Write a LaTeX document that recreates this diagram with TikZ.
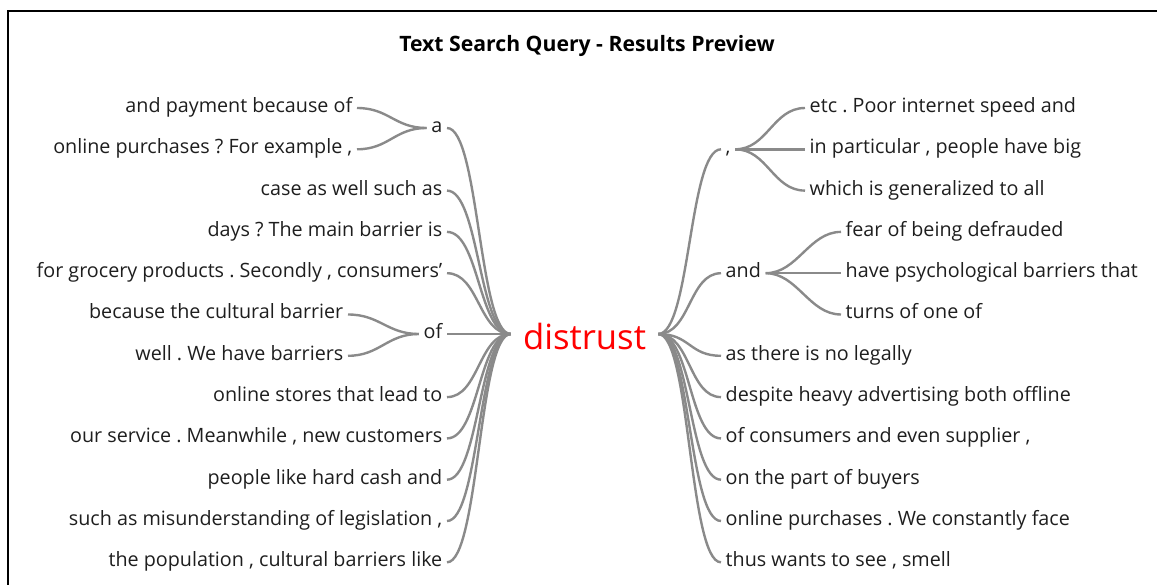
\documentclass[tikz,border=0pt]{standalone}
\usepackage{fontspec}
\setmainfont{Open Sans}
\usetikzlibrary{positioning}
\definecolor{linkgray}{HTML}{8A8A8A}
\definecolor{wordgray}{HTML}{1E1E1E}
\definecolor{hitred}{HTML}{FF0000}
\tikzset{
    every node/.style={font=\fontsize{14.8}{17}\selectfont,text=wordgray},
    leafl/.style={anchor=east,text height=1.5ex,text depth=.25ex},
    leafr/.style={anchor=west,text height=1.5ex,text depth=.25ex},
    keyword/.style={font=\fontsize{26}{30}\selectfont,text=hitred,inner xsep=9pt,text height=22.5pt,text depth=0pt},
    heading/.style={font=\fontsize{15.9}{19}\selectfont\bfseries,text=black},
    linkl/.style={draw=linkgray,line width=1.8pt,to path={.. controls +(-32,0) and +(32,0) .. (\tikztotarget)}},
    linkr/.style={draw=linkgray,line width=1.8pt,to path={.. controls +(32,0) and +(-32,0) .. (\tikztotarget)}}
}
\frenchspacing

\begin{document}
\begin{tikzpicture}[x=0.75pt,y=-0.75pt]
\useasboundingbox (0,0) rectangle (1157,585);
\draw[line width=1.5pt] (8,590) -- (8,11) -- (1160,11);

\node[heading] (title) at (587,45.5) {Text Search Query - Results Preview};
\node[keyword] (root) at (584.5,334) {distrust};

% left side
\node[leafl] (a) at (447,128) {a};
\node[leafl] (a1) at (357,108) {and payment because of};
\node[leafl] (a2) at (357,149.3) {online purchases ? For example ,};
\node[leafl] (l3) at (447,190.6) {case as well such as};
\node[leafl] (l4) at (447,231.9) {days ? The main barrier is};
\node[leafl] (l5) at (447,273.2) {for grocery products . Secondly , consumers’};
\node[leafl] (of) at (447,334) {of};
\node[leafl] (of1) at (348,314.5) {because the cultural barrier};
\node[leafl] (of2) at (348,355.8) {well . We have barriers};
\node[leafl] (l8) at (447,397.1) {online stores that lead to};
\node[leafl] (l9) at (447,438.4) {our service . Meanwhile , new customers};
\node[leafl] (l10) at (447,479.7) {people like hard cash and};
\node[leafl] (l11) at (447,521) {such as misunderstanding of legislation ,};
\node[leafl] (l12) at (447,562.3) {the population , cultural barriers like};

% right side
\node[leafr] (comma) at (721,149.3) {,};
\node[leafr] (c1) at (805,108) {etc . Poor internet speed and};
\node[leafr] (c2) at (805,149.3) {in particular , people have big};
\node[leafr] (c3) at (805,190.6) {which is generalized to all};
\node[leafr] (and) at (721,273.2) {and};
\node[leafr] (and1) at (841,231.9) {fear of being defrauded};
\node[leafr] (and2) at (841,273.2) {have psychological barriers that};
\node[leafr] (and3) at (841,314.5) {turns of one of};
\node[leafr] (r6) at (721,355.8) {as there is no legally};
\node[leafr] (r7) at (721,397.1) {despite heavy advertising both offline};
\node[leafr] (r8) at (721,438.4) {of consumers and even supplier ,};
\node[leafr] (r9) at (721,479.7) {on the part of buyers};
\node[leafr] (r10) at (721,521) {online purchases . We constantly face};
\node[leafr] (r11) at (721,562.3) {thus wants to see , smell};

% links
\foreach \n in {a,l3,l4,l5,of,l8,l9,l10,l11,l12}
    \draw[linkl] (root.west) to (\n.east);
\foreach \n in {a1,a2}
    \draw[linkl] (a.west) to (\n.east);
\foreach \n in {of1,of2}
    \draw[linkl] (of.west) to (\n.east);
\foreach \n in {comma,and,r6,r7,r8,r9,r10,r11}
    \draw[linkr] (root.east) to (\n.west);
\foreach \n in {c1,c2,c3}
    \draw[linkr] (comma.east) to (\n.west);
\foreach \n in {and1,and2,and3}
    \draw[linkr] (and.east) to (\n.west);
\end{tikzpicture}
\end{document}
